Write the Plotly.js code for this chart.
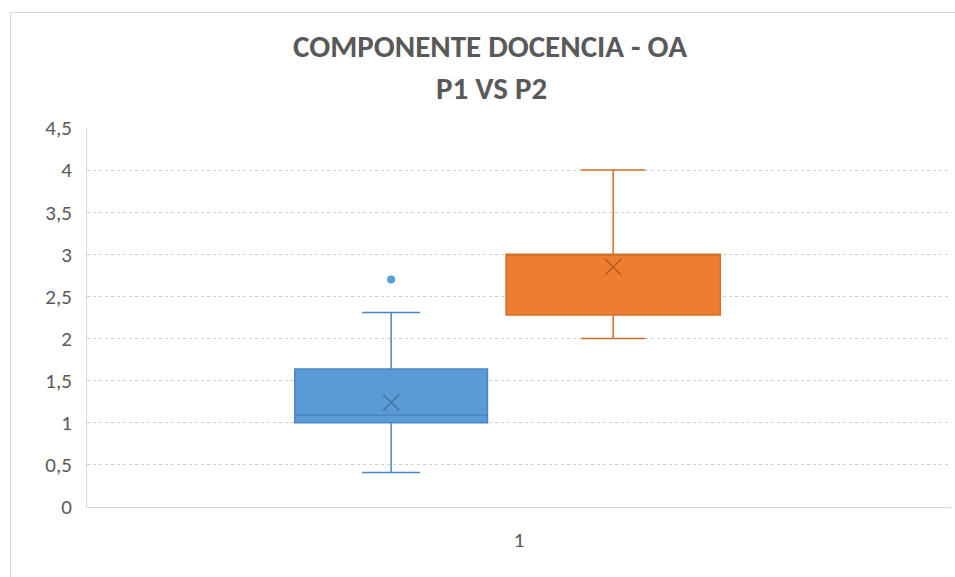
<!DOCTYPE html>
<html>
<head>
<meta charset="utf-8">
<script src="https://cdn.plot.ly/plotly-3.0.1.min.js"></script>
<style>
html,body{margin:0;padding:0;background:#fff;}
#frame{position:absolute;left:10px;top:12px;width:960px;height:580px;border:1px solid #d9d9d9;box-sizing:border-box;}
#chart{position:absolute;left:0;top:0;width:955px;height:577px;}
</style>
</head>
<body>
<div id="frame"></div>
<div id="chart"></div>
<script>
// Data
const seriesNames = ['P1', 'P2'];
const lowerFence  = [0.41, 2.0];
const q1Values    = [1.0, 2.28];
const medianVals  = [1.09, 3.0];
const q3Values    = [1.64, 3.0];
const upperFence  = [2.31, 4.0];
const meanValues  = [1.24, 2.85];
const outliersP1  = [2.7];
const categoryTicks = ['1'];

// Styling / layout
const boxPositions = [0.852, 1.109];
const boxWidths    = [0.223, 0.248];
const fillColors   = ['#5B9BD5', '#ED7D31'];
const lineColors   = ['#4A86C5', '#D46F2A'];
const meanColors   = ['#41719C', '#AE5A21'];
const fontStack = 'Carlito, Calibri, Lato, sans-serif';

const traces = [];
for (let i = 0; i < seriesNames.length; i++) {
  traces.push({
    type: 'box',
    name: seriesNames[i],
    x: [boxPositions[i]],
    q1: [q1Values[i]],
    median: [medianVals[i]],
    q3: [q3Values[i]],
    lowerfence: [lowerFence[i]],
    upperfence: [upperFence[i]],
    width: boxWidths[i],
    whiskerwidth: 0.3,
    boxpoints: false,
    fillcolor: fillColors[i],
    line: {color: lineColors[i], width: 1.5},
    showlegend: false
  });
  traces.push({
    type: 'scatter',
    mode: 'markers',
    x: [boxPositions[i]],
    y: [meanValues[i]],
    marker: {symbol: 'x-thin-open', size: 16, color: meanColors[i], line: {color: meanColors[i], width: 1.3}},
    showlegend: false,
    hoverinfo: 'y'
  });
}
traces.push({
  type: 'scatter',
  mode: 'markers',
  x: outliersP1.map(() => boxPositions[0]),
  y: outliersP1,
  marker: {symbol: 'circle', size: 8, color: fillColors[0]},
  showlegend: false,
  hoverinfo: 'y'
});

const layout = {
  width: 955,
  height: 577,
  paper_bgcolor: 'rgba(0,0,0,0)',
  plot_bgcolor: 'rgba(0,0,0,0)',
  separators: ',.',
  margin: {l: 87, r: 4, t: 128, b: 70, pad: 0},
  font: {family: fontStack, size: 21, color: '#595959'},
  title: {
    text: '<b>COMPONENTE DOCENCIA - OA</b>',
    x: 490 / 955, xanchor: 'center', xref: 'container',
    y: 1 - 46 / 577, yanchor: 'middle', yref: 'container',
    font: {family: fontStack, size: 31, color: '#595959'}
  },
  annotations: [{
    text: '<b>P1 VS P2</b>',
    xref: 'paper', yref: 'paper',
    x: (491 - 87) / 864, y: 1 + 40 / 379,
    xanchor: 'center', yanchor: 'middle',
    showarrow: false,
    font: {family: fontStack, size: 31, color: '#595959'}
  }],
  xaxis: {
    range: [0.5, 1.5],
    tickvals: [1],
    ticktext: categoryTicks,
    showgrid: false,
    zeroline: false,
    showline: true,
    linecolor: '#d9d9d9',
    linewidth: 1,
    ticks: '',
    ticklen: 0,
    ticklabelstandoff: 14,
    tickfont: {family: fontStack, size: 21, color: '#595959'},
    fixedrange: true
  },
  yaxis: {
    range: [0, 4.5],
    dtick: 0.5,
    tick0: 0,
    showgrid: true,
    gridcolor: '#d0d0d0',
    griddash: 'dot',
    gridwidth: 1,
    zeroline: false,
    showline: true,
    linecolor: '#d9d9d9',
    linewidth: 1,
    ticks: '',
    ticklabelstandoff: 10,
    tickfont: {family: fontStack, size: 21, color: '#595959'},
    fixedrange: true
  }
};

Plotly.newPlot('chart', traces, layout, {displayModeBar: false, staticPlot: true});
</script>
</body>
</html>
